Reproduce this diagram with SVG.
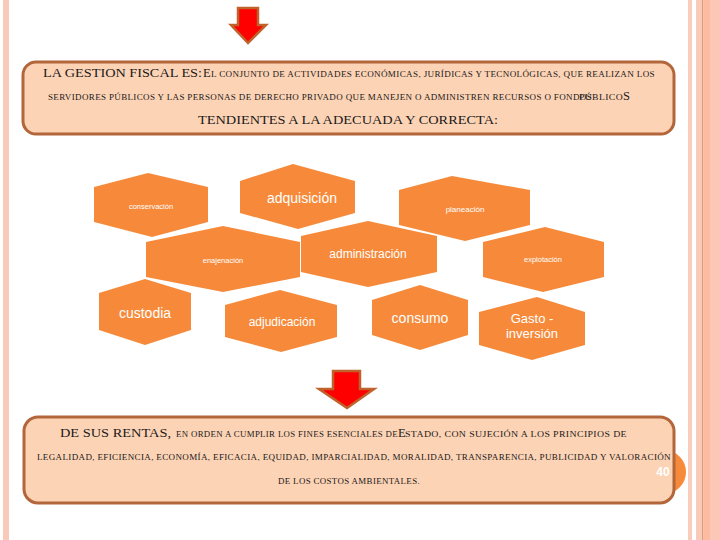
<svg xmlns="http://www.w3.org/2000/svg" width="720" height="540" viewBox="0 0 720 540">
<style>
.box{fill:#fdd3b5;stroke:#b2663a;stroke-width:3}
.hex{fill:#f68a3a}
.ht{fill:#ffffff;font-family:"Liberation Sans",Arial,sans-serif;text-anchor:middle}
.big{font-family:"Liberation Serif","Times New Roman",serif;fill:#1a1a1a;font-size:12.5px}
.sc{font-family:"Liberation Serif","Times New Roman",serif;fill:#1a1a1a;font-size:7.6px;letter-spacing:0.3px}
.arrow{fill:#ff0000;stroke:#c0622b;stroke-width:2.5;stroke-linejoin:miter}
</style>
<rect x="0" y="0" width="720" height="540" fill="#ffffff"/>
<!-- page borders -->
<rect x="3" y="0" width="6" height="540" fill="#f9c9b9"/>
<rect x="688" y="0" width="4" height="540" fill="#f9ccbc"/>
<rect x="696" y="0" width="6" height="540" fill="#f9c9b9"/>
<rect x="702" y="0" width="1.5" height="540" fill="#e09a78"/>
<rect x="703.5" y="0" width="6.5" height="540" fill="#fdbba0"/>
<rect x="710" y="0" width="10" height="540" fill="#fcc7b6"/>

<g id="connectors">
<polygon class="arrow" points="238,8 258,8 258,25 266,25 248,43 231,25 238,25"/>
<polygon class="arrow" points="333,371 360,371 360,389 374,389 347,408 319,389 333,389"/>
</g>

<g id="top-box">
<rect class="box" x="23" y="62" width="651" height="72" rx="13"/>
<text class="big" x="43" y="77" textLength="159" lengthAdjust="spacingAndGlyphs">LA GESTION FISCAL ES:</text>
<text class="big" x="203" y="77" font-size="11">E</text>
<text class="sc" x="211" y="77" textLength="444" lengthAdjust="spacingAndGlyphs">L CONJUNTO DE ACTIVIDADES ECONÓMICAS, JURÍDICAS Y TECNOLÓGICAS, QUE REALIZAN LOS</text>
<text class="sc" x="48" y="100" textLength="544" lengthAdjust="spacingAndGlyphs">SERVIDORES PÚBLICOS Y LAS PERSONAS DE DERECHO PRIVADO QUE MANEJEN O ADMINISTREN RECURSOS O FONDOS</text>
<text class="sc" x="579" y="100" textLength="44" lengthAdjust="spacingAndGlyphs">PÚBLICO</text>
<text class="big" x="623" y="100" font-size="11">S</text>
<text class="big" x="198" y="124" textLength="300" lengthAdjust="spacingAndGlyphs">TENDIENTES A LA ADECUADA Y CORRECTA:</text>
</g>

<g id="conservacion">
<polygon class="hex" points="94,187 148,173 208,187 208,222 152,237 94,222"/>
<text class="ht" x="151" y="209" font-size="7.5">conservación</text>
</g>
<g id="adquisicion">
<polygon class="hex" points="240,181 293,164 355,181 355,213 298,229 240,213"/>
<text class="ht" x="302" y="203" font-size="14">adquisición</text>
</g>
<g id="planeacion">
<polygon class="hex" points="399,190 452,176 530,190 530,225 465,241 399,225"/>
<text class="ht" x="465" y="212" font-size="8">planeación</text>
</g>
<g id="enajenacion">
<polygon class="hex" points="146,242 223,226 300,242 300,277 223,292 146,277"/>
<text class="ht" x="223" y="263" font-size="7.5">enajenación</text>
</g>
<g id="administracion">
<polygon class="hex" points="301,236 368,221 437,236 437,272 368,287 301,272"/>
<text class="ht" x="368" y="258" font-size="12">administración</text>
</g>
<g id="explotacion">
<polygon class="hex" points="483,242 545,227 604,242 604,277 543,292 483,277"/>
<text class="ht" x="543" y="262" font-size="7.5">explotación</text>
</g>
<g id="custodia">
<polygon class="hex" points="99,293 145,279 191,293 191,330 145,345 99,330"/>
<text class="ht" x="145" y="318" font-size="14">custodia</text>
</g>
<g id="adjudicacion">
<polygon class="hex" points="225,305 280,290 337,305 337,337 281,352 225,337"/>
<text class="ht" x="282" y="326" font-size="12">adjudicación</text>
</g>
<g id="consumo">
<polygon class="hex" points="372,300 420,285 468,300 468,335 420,350 372,335"/>
<text class="ht" x="420" y="323" font-size="14">consumo</text>
</g>
<g id="gasto-inversion">
<polygon class="hex" points="479,312 537,297 585,312 585,345 532,360 479,345"/>
<text class="ht" x="532" y="323" font-size="13">Gasto -</text>
<text class="ht" x="532" y="338" font-size="13">inversión</text>
</g>

<g id="page-number">
<circle cx="664" cy="472" r="22" fill="#f68a3a"/>
</g>

<g id="bottom-box">
<rect class="box" x="24" y="417" width="650" height="86" rx="14"/>
<text class="big" x="60" y="437" textLength="111" lengthAdjust="spacingAndGlyphs">DE SUS RENTAS,</text>
<text class="sc" x="176" y="437" textLength="222" lengthAdjust="spacingAndGlyphs">EN ORDEN A CUMPLIR LOS FINES ESENCIALES DE</text>
<text class="big" x="398" y="437" font-size="10">E</text>
<text class="sc" x="405" y="437" textLength="222" lengthAdjust="spacingAndGlyphs">STADO, CON SUJECIÓN A LOS PRINCIPIOS DE</text>
<text class="sc" x="37" y="460" textLength="634" lengthAdjust="spacingAndGlyphs">LEGALIDAD, EFICIENCIA, ECONOMÍA, EFICACIA, EQUIDAD, IMPARCIALIDAD, MORALIDAD, TRANSPARENCIA, PUBLICIDAD Y VALORACIÓN</text>
<text class="sc" x="278" y="484" textLength="142" lengthAdjust="spacingAndGlyphs">DE LOS COSTOS AMBIENTALES.</text>
<text x="663" y="476" font-family="'Liberation Sans',Arial,sans-serif" font-weight="bold" font-size="12" fill="#ffffff" text-anchor="middle">40</text>
</g>
</svg>
